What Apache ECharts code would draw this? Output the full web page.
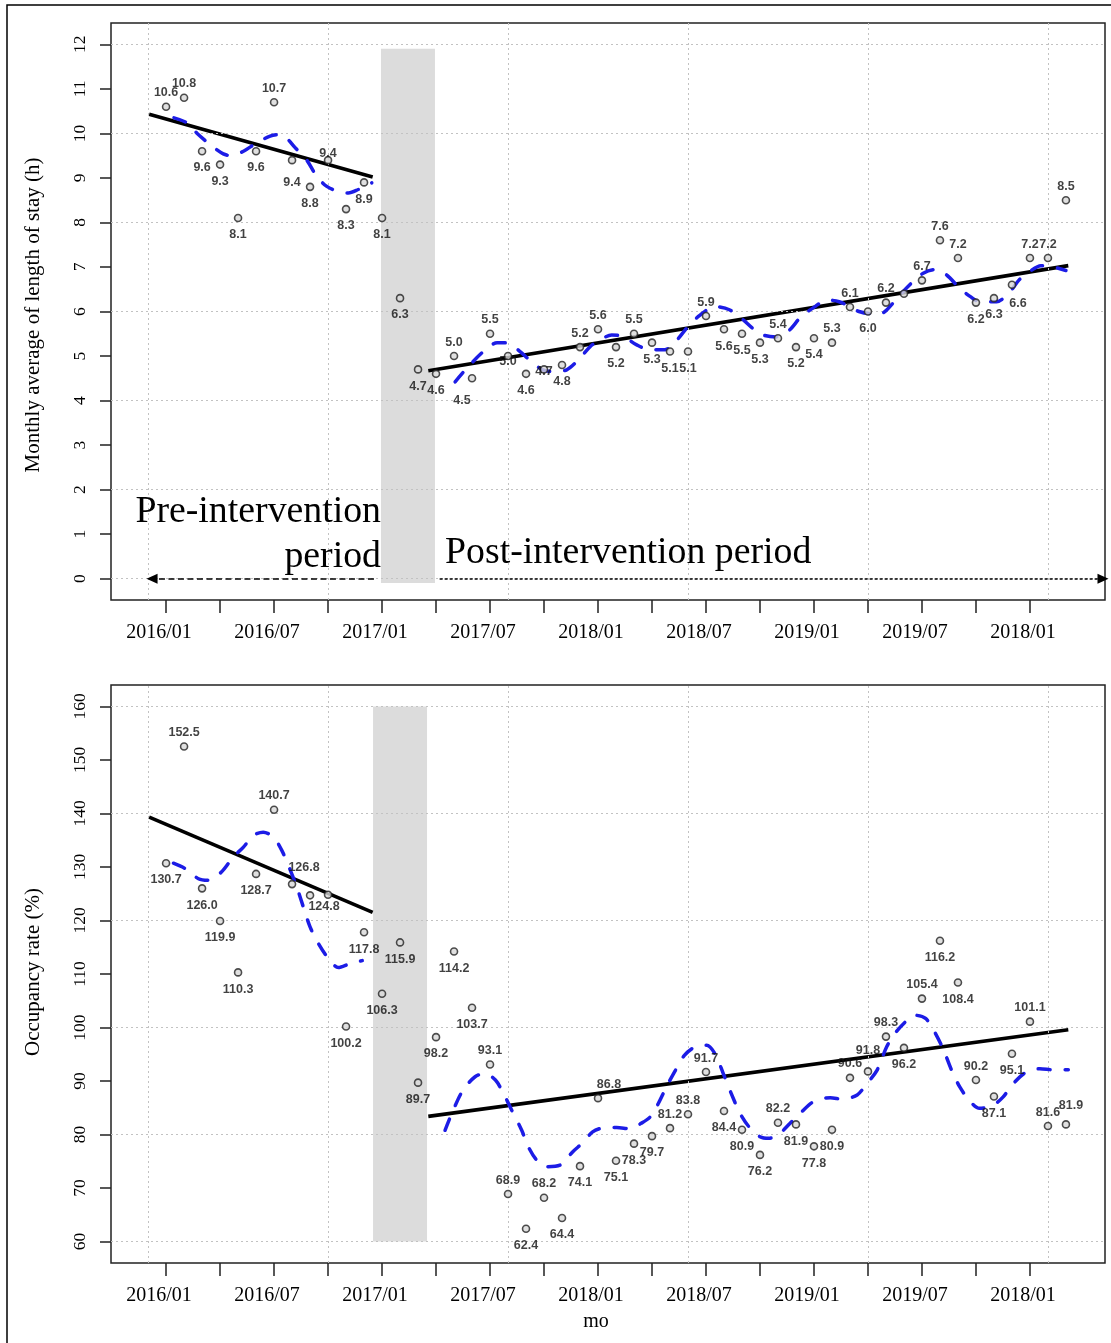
<!DOCTYPE html>
<html><head><meta charset="utf-8">
<script src="https://cdn.jsdelivr.net/npm/echarts@6/dist/echarts.min.js"></script>
<style>html,body{margin:0;padding:0;background:#fff}#c{width:1111px;height:1343px}</style>
</head><body><div id="c"></div>
<script>
// ---------- DATA ----------
const xTickLabels = ['2016/01','2016/07','2017/01','2017/07','2018/01','2018/07','2019/01','2019/07','2018/01'];
const xLabelMonths = [0,6,12,18,24,30,36,42,48];
const xTickMonths = [0,3,6,9,12,15,18,21,24,27,30,33,36,39,42,45,48];
const xGridMonths = [-1,9,19,29,39,49];

const losTicks = [0,1,2,3,4,5,6,7,8,9,10,11,12];
const losGrid = [0,2,4,6,8,10,12];
const occTicks = [60,70,80,90,100,110,120,130,140,150,160];
const occGrid = [60,80,100,120,140,160];

// month index 0 = 2016/01
const months = [0,1,2,3,4,5,6,7,8,9,10,11,12,13,14,15,16,17,18,19,20,21,22,23,24,25,26,27,28,29,30,31,32,33,34,35,36,37,38,39,40,41,42,43,44,45,46,47,48,49,50];

const losValues = [10.6,10.8,9.6,9.3,8.1,9.6,10.7,9.4,8.8,9.4,
                   8.3,8.9,8.1,6.3,4.7,4.6,5.0,4.5,5.5,5.0,
                   4.6,4.7,4.8,5.2,5.6,5.2,5.5,5.3,5.1,5.1,
                   5.9,5.6,5.5,5.3,5.4,5.2,5.4,5.3,6.1,6.0,
                   6.2,6.4,6.7,7.6,7.2,6.2,6.3,6.6,7.2,7.2,
                   8.5];
const occValues = [130.7,152.5,126.0,119.9,110.3,128.7,140.7,126.8,124.7,124.8,
                   100.2,117.8,106.3,115.9,89.7,98.2,114.2,103.7,93.1,68.9,
                   62.4,68.2,64.4,74.1,86.8,75.1,78.3,79.7,81.2,83.8,
                   91.7,84.4,80.9,76.2,82.2,81.9,77.8,80.9,90.6,91.8,
                   98.3,96.2,105.4,116.2,108.4,90.2,87.1,95.1,101.1,81.6,
                   81.9];

// segmented regression trend lines [x0,x1], [y0,y1]
const losPreTrendX = [-0.94, 11.48], losPreTrendY = [10.43, 9.02];
const losPostTrendX = [14.57, 50.13], losPostTrendY = [4.67, 7.03];
const occPreTrendX = [-0.94, 11.48], occPreTrendY = [139.3, 121.5];
const occPostTrendX = [14.57, 50.13], occPostTrendY = [83.4, 99.6];

// seasonal fitted curves (blue dashed)
const losPreCurveX = [0.44,1.15,1.7,2.44,3.18,3.65,4.3,5.04,5.78,6.2,6.6,7.17,7.8,8.37,8.93,9.67,10.13,10.68,11.43];
const losPreCurveY = [10.35,10.24,10.01,9.75,9.54,9.50,9.6,9.79,9.94,9.97,9.93,9.68,9.41,9.04,8.81,8.68,8.66,8.74,8.89];
const losPostCurveX = [16.06,16.7,17.63,18.4,19.0,19.67,20.2,20.87,21.5,22.26,22.9,23.56,24.1,24.76,25.4,26.15,26.9,27.7,28.3,29.0,29.67,30.5,31.3,32.07,32.6,33.2,33.9,34.6,35.3,36.06,36.7,37.4,37.98,38.5,39.2,39.76,40.4,40.96,41.5,42.07,42.7,43.37,44.1,44.67,45.2,46.15,46.9,47.4,48.0,48.6,49.2,50.0];
const losPostCurveY = [4.42,4.72,5.10,5.30,5.29,5.10,4.91,4.70,4.65,4.69,4.91,5.21,5.36,5.47,5.44,5.25,5.14,5.14,5.32,5.66,5.92,6.11,6.04,5.81,5.62,5.47,5.43,5.57,5.89,6.11,6.26,6.22,6.11,6.0,5.95,5.96,6.19,6.45,6.67,6.86,6.94,6.82,6.52,6.34,6.22,6.22,6.45,6.71,6.90,7.03,7.01,6.92];
const occPreCurveX = [0.41,1.06,1.8,2.35,3.09,3.74,4.3,4.85,5.4,5.96,6.43,6.9,7.26,7.63,8.0,8.46,9.02,9.57,10.2,10.9];
const occPreCurveY = [130.7,129.7,127.8,127.5,129.1,131.9,133.7,135.9,136.5,135.6,133.1,129.4,126.3,122.5,118.8,115.7,112.9,111.2,111.9,112.5];
const occPostCurveX = [15.5,15.96,16.5,17.17,17.7,18.3,18.74,19.2,19.76,20.13,20.6,21.15,21.9,22.6,23.2,23.7,24.3,25.04,25.8,26.4,26.9,27.35,27.8,28.3,28.8,29.4,30.04,30.5,30.96,31.4,31.9,32.4,33.0,33.5,34.0,34.67,35.3,35.96,36.9,37.6,38.4,38.93,39.5,40.04,40.5,41.06,41.6,42.2,42.7,43.2,43.65,44.1,44.7,45.2,45.96,46.5,47.07,47.8,48.55,49.3,50.13];
const occPostCurveY = [80.8,84.6,88.3,90.8,91.4,90.2,87.7,84.6,80.8,77.7,75.2,74.0,74.3,76.8,78.6,80.5,81.25,81.3,81.1,82.1,83.3,85.8,88.9,92.0,94.8,96.4,96.7,95.1,91.4,87.7,83.9,81.4,79.6,79.3,79.9,82.1,84.2,86.1,86.9,86.6,87.4,89.5,92.0,96.4,98.9,101.0,102.3,101.7,99.2,95.8,92.0,88.9,86.1,84.9,85.5,87.0,89.5,91.7,92.3,92.1,92.1];

// ---------- LAYOUT / ANNOTATION SETTINGS ----------
const losLabelSide = 'aabbbbabba' + 'bbbbbbabab' + 'bbbaababbb' + 'abbbabbaab' + 'a-aaabbbaa' + 'a';
const occLabelSide = 'babbbbaa-b' + 'bbbbbbbbaa' + 'babbabbbaa' + 'abbbabbbaa' + 'ababbabbaa' + 'a';
const losLabelNudge = {9:[0,7], 19:[0,-11], 21:[0,-15], 17:[-10,5], 7:[0,6], 47:[6,2]};
const occLabelNudge = {7:[12,-3], 24:[11,0], 39:[0,-7], 50:[5,-5], 9:[-4,-5]};
const losBand = [[11.94,-0.1],[14.94,11.9]];
const occBand = [[11.5,60],[14.5,160]];
const preArrow = [11.55,-0.78], postArrow = [15.2,52.06];

const SERIF = '"Liberation Serif", "Times New Roman", serif';
const SANS = '"Liberation Sans", Arial, sans-serif';
const BLUE = '#1c1ce6';

function pairs(xs, ys){ return xs.map((x,i)=>[x, ys[i]]); }

function pointData(vals, sides, nudges){
  return vals.map((v,i)=>{
    const s = sides[i];
    const lab = {show: s !== '-', position: s === 'a' ? 'top' : 'bottom', distance: s === 'a' ? 3 : 6};
    if (nudges[i]) lab.offset = nudges[i];
    return {value:[months[i], v], label: lab};
  });
}

function panel(gi, vals, sides, nudges, preTx, preTy, postTx, postTy, preCx, preCy, postCx, postCy, band, gridY, withArrows){
  const s = [];
  s.push({
    type:'line', xAxisIndex:gi, yAxisIndex:gi, data:[], silent:true, z:1,
    markLine:{silent:true, symbol:['none','none'], label:{show:false}, animation:false,
      lineStyle:{color:'#c2c2c2', width:1, type:[2,3]},
      data:[...xGridMonths.map(v=>({xAxis:v})), ...gridY.map(v=>({yAxis:v}))]}
  });
  s.push({
    type:'line', xAxisIndex:gi, yAxisIndex:gi, data:[], silent:true, z:2,
    markArea:{silent:true, itemStyle:{color:'#dcdcdc'}, label:{show:false},
      data:[[{xAxis:band[0][0], yAxis:band[0][1]},{xAxis:band[1][0], yAxis:band[1][1]}]]}
  });
  if (withArrows){
    s.push({type:'line', xAxisIndex:gi, yAxisIndex:gi, data:[], silent:true, z:3,
      markLine:{silent:true, symbol:['none','triangle'], symbolSize:[10,11], label:{show:false}, animation:false,
        lineStyle:{color:'#000', width:1.5, type:[6,3.5]},
        data:[[{coord:[preArrow[0],0]},{coord:[preArrow[1],0]}]]}});
    s.push({type:'line', xAxisIndex:gi, yAxisIndex:gi, data:[], silent:true, z:3,
      markLine:{silent:true, symbol:['none','triangle'], symbolSize:[10,11], label:{show:false}, animation:false,
        lineStyle:{color:'#000', width:1.5, type:[3,2]},
        data:[[{coord:[postArrow[0],0]},{coord:[postArrow[1],0]}]]}});
  }
  const trend = (xs,ys)=>({type:'line', xAxisIndex:gi, yAxisIndex:gi, data:pairs(xs,ys), showSymbol:false, silent:true, z:4,
    lineStyle:{color:'#000', width:3.6}});
  const curve = (xs,ys)=>({type:'line', xAxisIndex:gi, yAxisIndex:gi, data:pairs(xs,ys), showSymbol:false, silent:true, z:5, smooth:0.3,
    lineStyle:{color:BLUE, width:3.5, type:[12,15], cap:'round'}});
  s.push(trend(preTx,preTy), trend(postTx,postTy), curve(preCx,preCy), curve(postCx,postCy));
  s.push({type:'scatter', xAxisIndex:gi, yAxisIndex:gi, z:6, symbol:'circle', symbolSize:7,
    itemStyle:{color:'#d8d8d8', borderColor:'#222', borderWidth:1.6},
    label:{color:'#111', fontFamily:SANS, fontWeight:'bold', fontSize:12.5, formatter:p=>p.value[1].toFixed(1)},
    data: pointData(vals, sides, nudges)});
  return s;
}

function xAxis(gi){
  return {type:'value', gridIndex:gi, min:-3.06, max:52.17,
    axisLine:{show:false, onZero:false}, splitLine:{show:false},
    axisTick:{show:true, inside:false, customValues:xTickMonths, length:13, lineStyle:{color:'#222', width:1.5}},
    axisLabel:{show:true, customValues:xLabelMonths, fontFamily:SERIF, fontSize:20, color:'#000', margin:23, padding:[0,14,0,0],
      formatter:v=>xTickLabels[xLabelMonths.indexOf(Math.round(v))] || ''}};
}
function yAxis(gi, min, max, ticks){
  return {type:'value', gridIndex:gi, min:min, max:max,
    axisLine:{show:false, onZero:false}, splitLine:{show:false},
    axisTick:{show:true, inside:false, customValues:ticks, length:11, lineStyle:{color:'#222', width:1.5}},
    axisLabel:{show:true, customValues:ticks, rotate:90, fontFamily:SERIF, fontSize:17.5, color:'#000', margin:22}};
}

const option = {
  animation:false,
  backgroundColor:'#fff',
  grid:[
    {left:111, top:23, width:994, height:577, show:true, borderColor:'#222', borderWidth:1.5, backgroundColor:'transparent'},
    {left:111, top:685, width:994, height:578, show:true, borderColor:'#222', borderWidth:1.5, backgroundColor:'transparent'}
  ],
  xAxis:[xAxis(0), xAxis(1)],
  yAxis:[yAxis(0,-0.48,12.48,losTicks), yAxis(1,56,164,occTicks)],
  series:[
    ...panel(0, losValues, losLabelSide, losLabelNudge, losPreTrendX, losPreTrendY, losPostTrendX, losPostTrendY,
             losPreCurveX, losPreCurveY, losPostCurveX, losPostCurveY, losBand, losGrid, true),
    ...panel(1, occValues, occLabelSide, occLabelNudge, occPreTrendX, occPreTrendY, occPostTrendX, occPostTrendY,
             occPreCurveX, occPreCurveY, occPostCurveX, occPostCurveY, occBand, occGrid, false)
  ],
  graphic:[
    {type:'rect', silent:true, z:0, shape:{x:7, y:5, width:1300, height:1500}, style:{fill:'none', stroke:'#000', lineWidth:1.5}},
    {type:'text', x:33, y:315, rotation:Math.PI/2, style:{text:'Monthly average of length of stay (h)', font:'21px '+SERIF, fill:'#000', textAlign:'center', textVerticalAlign:'middle'}},
    {type:'text', x:33, y:972, rotation:Math.PI/2, style:{text:'Occupancy rate (%)', font:'21px '+SERIF, fill:'#000', textAlign:'center', textVerticalAlign:'middle'}},
    {type:'text', x:596, y:1322, style:{text:'mo', font:'20px '+SERIF, fill:'#000', textAlign:'center', textVerticalAlign:'middle'}},
    {type:'text', x:381, y:512, z:10, style:{text:'Pre-intervention', font:'37.8px '+SERIF, fill:'#000', textAlign:'right', textVerticalAlign:'middle'}},
    {type:'text', x:381, y:557, z:10, style:{text:'period', font:'37.8px '+SERIF, fill:'#000', textAlign:'right', textVerticalAlign:'middle'}},
    {type:'text', x:445, y:553, z:10, style:{text:'Post-intervention period', font:'37.8px '+SERIF, fill:'#000', textAlign:'left', textVerticalAlign:'middle'}}
  ]
};
const chart = echarts.init(document.getElementById('c'), null, {renderer:'canvas', width:1111, height:1343});
chart.setOption(option);
</script></body></html>
